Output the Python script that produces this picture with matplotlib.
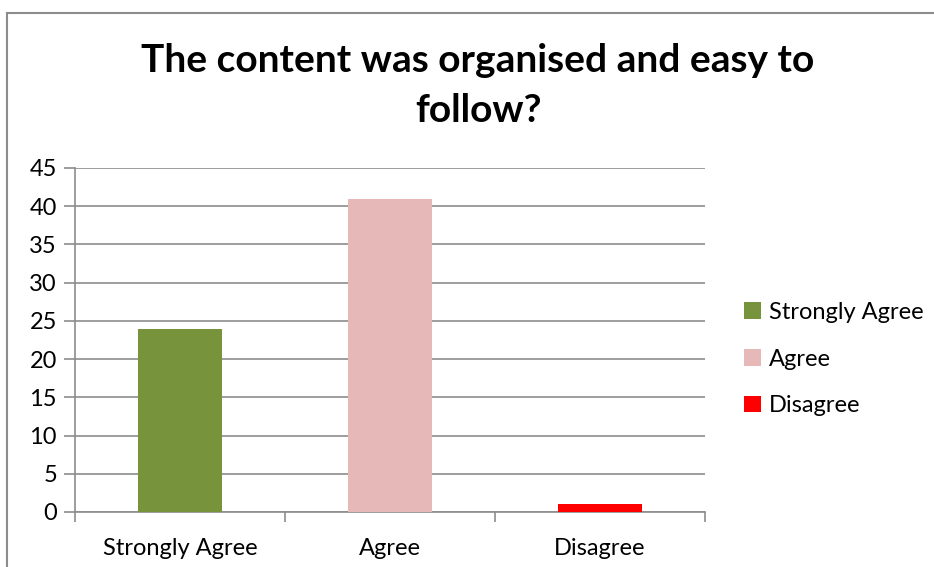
import matplotlib.pyplot as plt
from matplotlib.patches import Patch
from matplotlib.lines import Line2D

categories = ["Strongly Agree", "Agree", "Disagree"]
counts = [24, 41, 1]
colors = ["#77933C", "#E6B9B8", "#FF0000"]
yticks = [0, 5, 10, 15, 20, 25, 30, 35, 40, 45]

plt.rcParams['font.family'] = ['Lato', 'DejaVu Sans']
grey = "#8C8C8C"

fig = plt.figure(figsize=(9.34, 5.67), dpi=100)
ax = fig.add_axes([75 / 934, 55 / 567, 630 / 934, 344 / 567])

x = list(range(len(categories)))
ax.bar(x, counts, width=0.4, color=colors, zorder=3)

ax.set_xlim(-0.5, 2.5)
ax.set_ylim(0, 45)
ax.set_yticks(yticks)
ax.set_xticks(x)
ax.set_xticklabels(categories)
ax.set_xticks([-0.5, 0.5, 1.5, 2.5], minor=True)
ax.tick_params(axis='x', which='major', length=0, pad=19, labelsize=17)
ax.tick_params(axis='x', which='minor', length=7, color=grey, width=1.2)
ax.tick_params(axis='y', length=8, color=grey, width=1.2, pad=5, labelsize=17)

ax.grid(axis='y', color=grey, linewidth=1.2, zorder=0)
for s in ['top', 'right']:
    ax.spines[s].set_visible(False)
for s in ['left', 'bottom']:
    ax.spines[s].set_color(grey)
    ax.spines[s].set_linewidth(1.2)

fig.text(478 / 934, 1 - 61 / 567, "The content was organised and easy to",
         ha='center', va='center', fontsize=28, fontweight='bold')
fig.text(478 / 934, 1 - 110 / 567, "follow?",
         ha='center', va='center', fontsize=28, fontweight='bold')

handles = [Patch(facecolor=c, label=l) for c, l in zip(colors, categories)]
fig.legend(handles=handles, loc='center left', bbox_to_anchor=(723 / 934, 1 - 359 / 567),
           frameon=False, fontsize=17, handlelength=0.7, handleheight=0.7,
           handletextpad=0.35, labelspacing=1.1)

# outer chart border
fig.add_artist(Line2D([7 / 934, 7 / 934], [0, 1 - 13 / 567], color=grey, linewidth=1.5))
fig.add_artist(Line2D([7 / 934, 1], [1 - 13 / 567, 1 - 13 / 567], color=grey, linewidth=1.5))

fig.savefig("out.png", dpi=100)
